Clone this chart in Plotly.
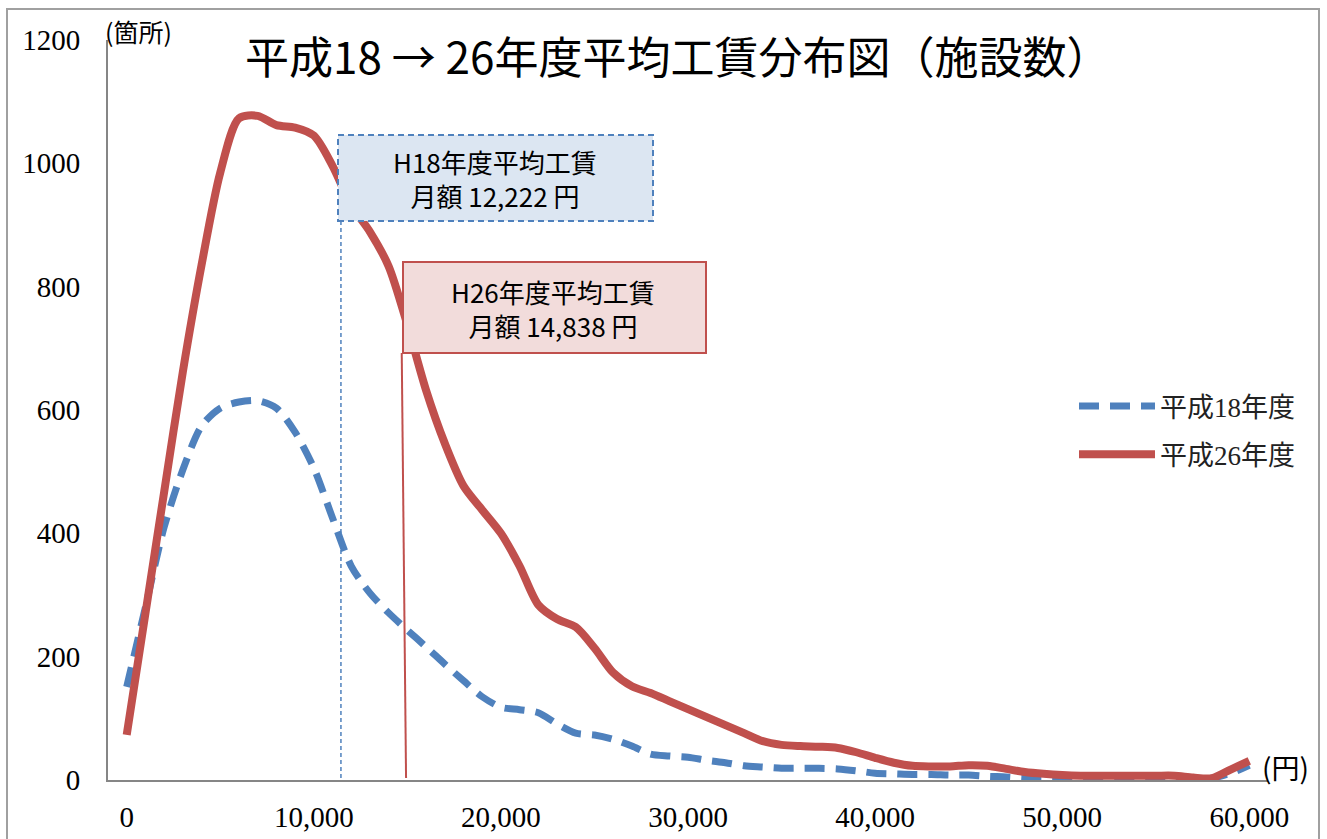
import plotly.graph_objects as go

# ---------------- data ----------------
wage_yen = list(range(0, 61000, 1000))

h18_counts = [151, 280, 410, 503, 574, 603, 613, 615, 603, 564,
              506, 425, 347, 303, 271, 243, 216, 188, 161, 135,
              118, 114, 109, 91, 76, 73, 66, 55, 42, 39,
              37, 32, 28, 23, 21, 19, 19, 19, 18, 15,
              11, 10, 9, 9, 8, 8, 6, 5, 3, 2,
              2, 2, 2, 2, 2, 2, 2, 2, 3, 11,
              24]

h26_counts = [73, 270, 467, 662, 835, 985, 1073, 1077, 1062, 1058,
              1045, 996, 932, 889, 833, 738, 632, 546, 477, 438,
              400, 347, 284, 261, 248, 214, 174, 152, 141, 128,
              115, 102, 89, 76, 63, 57, 55, 54, 52, 45,
              36, 28, 23, 22, 22, 24, 23, 18, 13, 10,
              8, 7, 7, 7, 7, 7, 7, 4, 3, 17,
              31]

series_names = ["平成18年度", "平成26年度"]
series_colors = ["#4F81BD", "#C0504D"]

x_tick_vals = [0, 10000, 20000, 30000, 40000, 50000, 60000]
x_tick_text = ["0", "10,000", "20,000", "30,000", "40,000", "50,000", "60,000"]
y_tick_vals = [0, 200, 400, 600, 800, 1000, 1200]
y_tick_text = ["0", "200", "400", "600", "800", "1000", "1200"]

title_text = "平成18 → 26年度平均工賃分布図（施設数）"
y_unit = "(箇所)"
x_unit = "(円)"
h18_label = ["H18年度平均工賃", "月額 12,222 円"]
h26_label = ["H26年度平均工賃", "月額 14,838 円"]
h18_marker_x = 11450
h26_marker_x = [14700, 14930]   # top, bottom (as drawn)

# ---------------- figure ----------------
W, H = 1327, 839
L, R, T, B = 108, 59, 40, 59
PW, PH = W - L - R, H - T - B


def px(xp):
    return (xp - L) / PW


def py(yp):
    return (H - B - yp) / PH


fig = go.Figure()
fig.add_trace(go.Scatter(
    x=wage_yen, y=h18_counts, name=series_names[0], mode="lines",
    legendgroup="a",
    line=dict(color=series_colors[0], width=7, dash="20px,11px",
              shape="spline", smoothing=0.8),
))
fig.add_trace(go.Scatter(
    x=wage_yen, y=h26_counts, name=series_names[1], mode="lines",
    legendgroup="b",
    line=dict(color=series_colors[1], width=8, shape="spline", smoothing=0.8),
))

serif = "Liberation Serif, Noto Sans CJK JP"
gothic = "Noto Sans CJK JP"

fig.update_layout(
    width=W, height=H,
    margin=dict(l=L, r=R, t=T, b=B, autoexpand=False),
    paper_bgcolor="white", plot_bgcolor="white",
    showlegend=True,
    legend=dict(x=px(1074), y=py(382), xanchor="left", yanchor="top",
                font=dict(family=serif, size=27, color="#222"),
                bgcolor="rgba(0,0,0,0)", itemwidth=76,
                tracegroupgap=10),
    xaxis=dict(range=[-1000, 61000], tickvals=x_tick_vals, ticktext=x_tick_text,
               showgrid=False, zeroline=False, showline=True, automargin=False,
               linecolor="#868686", linewidth=2, ticks="",
               ticklabelstandoff=10,
               tickfont=dict(family=serif, size=29, color="black")),
    yaxis=dict(range=[0, 1200], tickvals=y_tick_vals, ticktext=y_tick_text,
               showgrid=False, zeroline=False, showline=True, automargin=False,
               linecolor="#868686", linewidth=2, ticks="",
               ticklabelstandoff=20,
               tickfont=dict(family=serif, size=29, color="black")),
)

shapes = [
    # outer frame
    dict(type="rect", xref="paper", yref="paper",
         x0=px(7), x1=px(1319), y0=py(860), y1=py(9),
         line=dict(color="#A0A0A0", width=2), fillcolor="rgba(0,0,0,0)", layer="below"),
    # H18 average marker line
    dict(type="line", xref="x", yref="paper",
         x0=h18_marker_x, x1=h18_marker_x, y0=py(778), y1=py(221),
         line=dict(color="#4F81BD", width=1.5, dash="4px,3px")),
    # H26 average marker line
    dict(type="line", xref="x", yref="paper",
         x0=h26_marker_x[0], x1=h26_marker_x[1], y0=py(353), y1=py(778),
         line=dict(color="#C0504D", width=2)),
    # H18 box
    dict(type="rect", xref="paper", yref="paper",
         x0=px(338), x1=px(653), y0=py(221), y1=py(135),
         fillcolor="#DCE6F2", line=dict(color="#4F81BD", width=2, dash="6px,4px")),
    # H26 box
    dict(type="rect", xref="paper", yref="paper",
         x0=px(403), x1=px(706), y0=py(353), y1=py(262),
         fillcolor="#F2DCDB", line=dict(color="#C0504D", width=2)),
]
fig.update_layout(shapes=shapes)

anns = [
    dict(text=title_text, x=px(677), y=py(55), font=dict(family=gothic, size=44, color="black")),
    dict(text=y_unit, x=px(138), y=py(31), font=dict(family=gothic, size=25, color="black")),
    dict(text=x_unit, x=px(1285), y=py(767), font=dict(family=gothic, size=28, color="black")),
    dict(text="<br>".join(h18_label), x=px(495), y=py(179), font=dict(family=gothic, size=26, color="black")),
    dict(text="<br>".join(h26_label), x=px(553), y=py(309), font=dict(family=gothic, size=26, color="black")),
]
for a in anns:
    a.update(xref="paper", yref="paper", showarrow=False, xanchor="center", yanchor="middle")
fig.update_layout(annotations=anns)

fig.write_html("out.html", config={"displayModeBar": False},
               post_script="document.body.style.margin='0';")
